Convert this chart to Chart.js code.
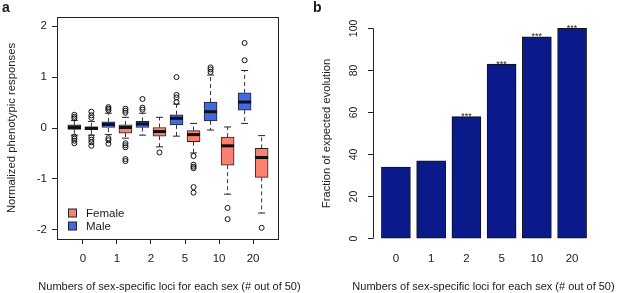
<!DOCTYPE html>
<html>
<head>
<meta charset="utf-8">
<script src="https://cdn.jsdelivr.net/npm/chart.js@4.4.1/dist/chart.umd.min.js"></script>
<style>
  body { margin: 0; background: #fff; }
  #wrap { position: relative; width: 617px; height: 293px; }
  #pa { position: absolute; left: 0; top: 0; width: 310px; height: 293px; }
  #pb { position: absolute; left: 310px; top: 0; width: 307px; height: 293px; }
</style>
</head>
<body>
<div id="wrap">
  <div id="pa"><canvas id="chartA"></canvas></div>
  <div id="pb"><canvas id="chartB"></canvas></div>
</div>
<script>
// categories
const groups = ['0', '1', '2', '5', '10', '20'];
const xTitle = 'Numbers of sex-specific loci for each sex (# out of 50)';

// panel a - male boxplot stats
const maleLow  = [-0.14, -0.13, -0.14, -0.16, -0.04, 0.09];
const maleQ1   = [-0.03, 0.00, 0.01, 0.06, 0.14, 0.35];
const maleMed  = [0.01, 0.07, 0.08, 0.19, 0.32, 0.51];
const maleQ3   = [0.06, 0.12, 0.13, 0.26, 0.51, 0.69];
const maleHigh = [0.15, 0.29, 0.29, 0.47, 1.04, 1.13];
const maleOut  = [
  [0.19, 0.22, 0.26, -0.17, -0.21, -0.25, -0.3],
  [0.35, 0.38, 0.41, -0.2, -0.24, -0.31],
  [0.36, 0.4, 0.57],
  [0.51, 0.6, 0.65, 1.0],
  [1.1, 1.15, 1.19],
  [1.33, 1.67]
];

// panel a - female boxplot stats
const femLow  = [-0.14, -0.2, -0.37, -0.49, -1.3, -1.67];
const femQ1   = [-0.035, -0.1, -0.16, -0.27, -0.73, -0.97];
const femMed  = [-0.005, 0.01, -0.07, -0.13, -0.35, -0.58];
const femQ3   = [0.025, 0.06, 0.01, -0.05, -0.18, -0.4];
const femHigh = [0.13, 0.21, 0.21, 0.09, 0.02, -0.15];
const femOut  = [
  [0.2, 0.25, 0.32, -0.18, -0.23, -0.28, -0.35],
  [0.3, 0.34, 0.38, -0.3, -0.34, -0.38, -0.61, -0.65],
  [-0.48],
  [-0.55, -0.72, -0.76, -0.79, -1.16, -1.27],
  [-1.57, -1.79],
  [-1.96]
];
const yTicksA = [-2, -1, 0, 1, 2];

// panel b
const fraction = [34, 37, 58, 83, 96, 100];
const stars = ['', '', '***', '***', '***', '***'];
const yTicksB = [0, 20, 40, 60, 80, 100];

const FONT = 'Liberation Sans, Arial, Helvetica, sans-serif';
const TXT = '#1a1a1a';
const SALMON = '#fa8072';
const ROYAL = '#4169e1';

// box positions: male left, female right of each group tick
const mPos = i => 2 * i + 1;
const fPos = i => 2 * i + 2;

const boxes = (pos, q1, q3) => groups.map((g, i) => ({ x: pos(i), y: [q1[i], q3[i]] }));
const points = (pos, arr) => groups.map((g, i) => ({ x: pos(i), y: arr[i] }));

const whiskers = [];
groups.forEach((g, i) => {
  whiskers.push({ x: mPos(i), y: maleQ3[i] }, { x: mPos(i), y: maleHigh[i] }, { x: mPos(i), y: null });
  whiskers.push({ x: mPos(i), y: maleQ1[i] }, { x: mPos(i), y: maleLow[i] }, { x: mPos(i), y: null });
  whiskers.push({ x: fPos(i), y: femQ3[i] }, { x: fPos(i), y: femHigh[i] }, { x: fPos(i), y: null });
  whiskers.push({ x: fPos(i), y: femQ1[i] }, { x: fPos(i), y: femLow[i] }, { x: fPos(i), y: null });
});

const outliers = [];
groups.forEach((g, i) => {
  maleOut[i].forEach(v => outliers.push({ x: mPos(i), y: v }));
  femOut[i].forEach(v => outliers.push({ x: fPos(i), y: v }));
});

function drawXTitle(ctx, cx, cy) {
  ctx.save();
  ctx.font = '11px ' + FONT;
  ctx.fillStyle = TXT;
  ctx.textAlign = 'center';
  ctx.textBaseline = 'middle';
  ctx.fillText(xTitle, cx, cy);
  ctx.restore();
}

// frame, legend and panel letter for a
const decoA = {
  id: 'decoA',
  afterDraw(chart) {
    const { ctx, chartArea: a } = chart;
    ctx.save();
    ctx.strokeStyle = '#222';
    ctx.lineWidth = 1;
    ctx.strokeRect(Math.round(a.left) + 0.5, Math.round(a.top) + 0.5,
      Math.round(a.right - a.left) - 1, Math.round(a.bottom - a.top));
    // legend
    const items = [['Female', SALMON], ['Male', ROYAL]];
    ctx.font = '11.5px ' + FONT;
    ctx.textBaseline = 'middle';
    items.forEach((it, k) => {
      const y = 213 + k * 13;
      ctx.fillStyle = it[1];
      ctx.fillRect(68.5, y - 4, 8, 8);
      ctx.strokeStyle = '#222';
      ctx.strokeRect(68.5, y - 4, 8, 8);
      ctx.fillStyle = TXT;
      ctx.fillText(it[0], 86, y + 0.5);
    });
    ctx.font = 'bold 14px ' + FONT;
    ctx.textBaseline = 'top';
    ctx.fillText('a', 2, 1);
    ctx.restore();
    drawXTitle(ctx, 169.5, 286.5);
  }
};

new Chart(document.getElementById('chartA'), {
  type: 'bar',
  data: {
    datasets: [
      { type: 'scatter', data: outliers, order: 1, pointStyle: 'circle', pointRadius: 2.5,
        pointBackgroundColor: 'rgba(255,255,255,0)', pointBorderColor: '#111', pointBorderWidth: 1 },
      { type: 'scatter', data: [...points(mPos, maleMed), ...points(fPos, femMed)], order: 2,
        pointStyle: 'line', pointRadius: 6.5, pointBorderWidth: 3, pointBorderColor: '#111' },
      { type: 'scatter', data: [...points(mPos, maleLow), ...points(mPos, maleHigh),
                                ...points(fPos, femLow), ...points(fPos, femHigh)], order: 3,
        pointStyle: 'line', pointRadius: 3.5, pointBorderWidth: 1, pointBorderColor: '#222' },
      { type: 'bar', label: 'Male', data: boxes(mPos, maleQ1, maleQ3), order: 4, grouped: false,
        backgroundColor: ROYAL, borderColor: '#222', borderWidth: 1, borderSkipped: false, barThickness: 13 },
      { type: 'bar', label: 'Female', data: boxes(fPos, femQ1, femQ3), order: 4, grouped: false,
        backgroundColor: SALMON, borderColor: '#222', borderWidth: 1, borderSkipped: false, barThickness: 13 },
      { type: 'line', data: whiskers, order: 5, borderColor: '#333', borderWidth: 1, borderDash: [4, 3],
        pointRadius: 0, spanGaps: false, fill: false }
    ]
  },
  options: {
    responsive: true,
    maintainAspectRatio: false,
    animation: false,
    layout: { padding: { top: 17, right: 31, left: 0, bottom: 0 } },
    plugins: { legend: { display: false }, tooltip: { enabled: false } },
    scales: {
      x: {
        type: 'linear', min: -0.02, max: 13.02, offset: false,
        afterBuildTicks: s => { s.ticks = groups.map((g, i) => ({ value: 2 * i + 1.5 })); },
        afterFit: s => { s.height = 54; },
        ticks: { callback: (v, i) => groups[i], autoSkip: false, maxRotation: 0, padding: 8,
                 font: { family: FONT, size: 11.5 }, color: TXT },
        grid: { offset: false, drawOnChartArea: false, drawTicks: true, tickLength: 5, color: '#222' },
        border: { display: false }
      },
      y: {
        type: 'linear', min: -2.18, max: 2.18,
        afterBuildTicks: s => { s.ticks = yTicksA.map(v => ({ value: v })); },
        afterFit: s => { s.width = 57; },
        ticks: { padding: 5, font: { family: FONT, size: 11.5 }, color: TXT },
        grid: { drawOnChartArea: false, drawTicks: true, tickLength: 5, color: '#222' },
        border: { display: false },
        title: { display: true, text: 'Normalized phenotypic responses',
                 font: { family: FONT, size: 11.3 }, color: TXT, padding: { top: 5, bottom: 0 } }
      }
    }
  },
  plugins: [decoA]
});

// y axis line, stars and panel letter for b
const decoB = {
  id: 'decoB',
  afterDraw(chart) {
    const { ctx, chartArea: a } = chart;
    const ys = chart.scales.y;
    ctx.save();
    ctx.strokeStyle = '#222';
    ctx.lineWidth = 1;
    const x = Math.round(a.left) + 0.5;
    ctx.beginPath();
    ctx.moveTo(x, ys.getPixelForValue(yTicksB[0]));
    ctx.lineTo(x, ys.getPixelForValue(yTicksB[yTicksB.length - 1]));
    ctx.stroke();
    const meta = chart.getDatasetMeta(0);
    ctx.fillStyle = TXT;
    ctx.font = '9px ' + FONT;
    ctx.textAlign = 'center';
    ctx.textBaseline = 'alphabetic';
    meta.data.forEach((bar, i) => { ctx.fillText(stars[i], bar.x, bar.y + 2.5); });
    ctx.font = 'bold 14px ' + FONT;
    ctx.textAlign = 'left';
    ctx.textBaseline = 'top';
    ctx.fillText('b', 3, 1);
    ctx.restore();
    drawXTitle(ctx, 173.5, 286.5);
  }
};

new Chart(document.getElementById('chartB'), {
  type: 'bar',
  data: {
    datasets: [{
      data: groups.map((g, i) => ({ x: 0.7 + 1.2 * i, y: fraction[i] })),
      backgroundColor: '#0b1a8a',
      borderColor: '#111',
      borderWidth: 1,
      borderSkipped: false,
      barThickness: 29
    }]
  },
  options: {
    responsive: true,
    maintainAspectRatio: false,
    animation: false,
    layout: { padding: { top: 20, right: 22, left: 0, bottom: 0 } },
    plugins: { legend: { display: false }, tooltip: { enabled: false } },
    scales: {
      x: {
        type: 'linear', min: -0.08, max: 7.48, offset: false,
        afterBuildTicks: s => { s.ticks = groups.map((g, i) => ({ value: 0.7 + 1.2 * i })); },
        afterFit: s => { s.height = 46; },
        ticks: { callback: (v, i) => groups[i], autoSkip: false, maxRotation: 0, padding: 5,
                 font: { family: FONT, size: 11.5 }, color: TXT },
        grid: { display: false, drawTicks: false, offset: false },
        border: { display: false }
      },
      y: {
        type: 'linear', min: -4, max: 104,
        afterBuildTicks: s => { s.ticks = yTicksB.map(v => ({ value: v })); },
        afterFit: s => { s.width = 63; },
        ticks: { minRotation: 90, maxRotation: 90, crossAlign: 'center', padding: 5,
                 font: { family: FONT, size: 10.5 }, color: TXT },
        grid: { drawOnChartArea: false, drawTicks: true, tickLength: 5, color: '#222' },
        border: { display: false },
        title: { display: true, text: 'Fraction of expected evolution',
                 font: { family: FONT, size: 11.2 }, color: TXT, padding: { top: 10, bottom: 0 } }
      }
    }
  },
  plugins: [decoB]
});
</script>
</body>
</html>
